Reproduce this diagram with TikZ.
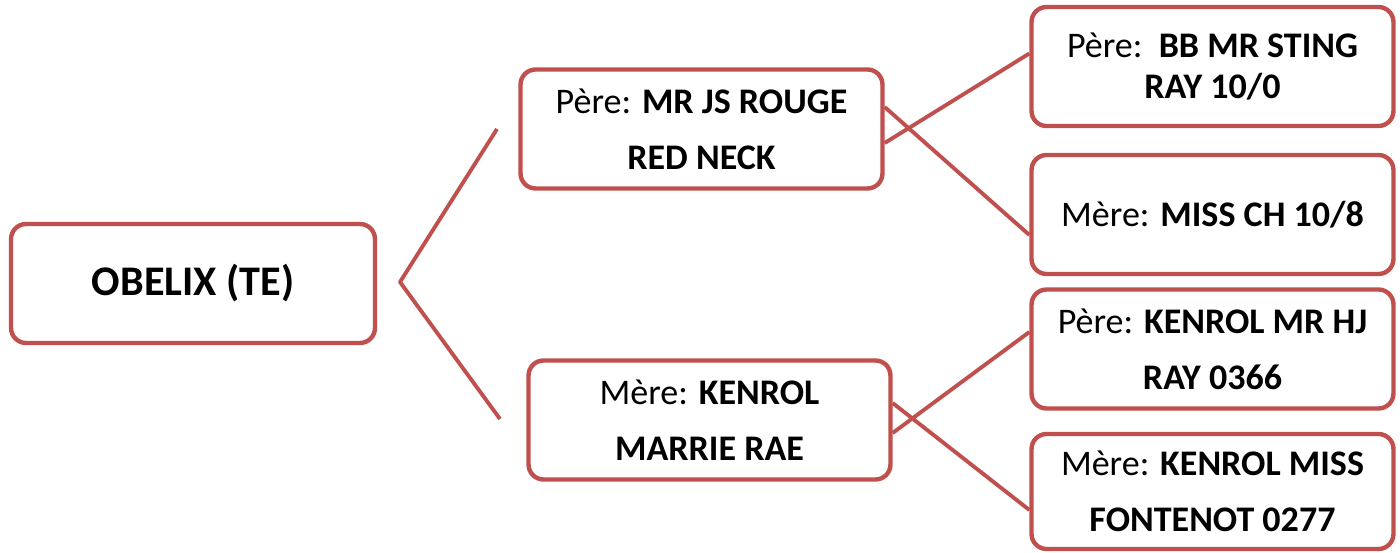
\documentclass[tikz,border=0pt]{standalone}
\usepackage{fontspec}
\setmainfont{Carlito}
\definecolor{boxred}{RGB}{192,80,77}

\begin{document}
\begin{tikzpicture}[x=0.02cm,y=-0.02cm,line join=round,
    main box/.style={rectangle,rounded corners=0.3cm,draw=boxred,line width=2.5pt,
      minimum width=7.24cm,minimum height=2.38cm,align=center,
      font=\fontsize{20.5}{32}\selectfont},
    link/.style={draw=boxred,line width=2.2pt}]
    \useasboundingbox (0,0) rectangle (1400,553);
    \node[main box,minimum width=7.28cm,font=\fontsize{24}{28}\selectfont\bfseries] (obelix) at (193,283.5) {OBELIX (TE)};
    \node[main box] (pere) at (701.5,129) {P\`ere: \textbf{MR JS ROUGE}\\\textbf{RED NECK}};
    \node[main box] (mere) at (709.5,420) {M\`ere: \textbf{KENROL}\\\textbf{MARRIE RAE}};
    \node[main box,font=\fontsize{20.5}{23}\selectfont] (gp1) at (1212.5,66.5) {P\`ere:\ \ \textbf{BB MR STING}\\\textbf{RAY 10/0}};
    \node[main box] (gp2) at (1212.5,214.5) {M\`ere: \textbf{MISS CH 10/8}};
    \node[main box] (gp3) at (1212.5,349) {P\`ere: \textbf{KENROL MR HJ}\\\textbf{RAY 0366}};
    \node[main box,minimum height=2.3cm] (gp4) at (1212.5,491.5) {M\`ere: \textbf{KENROL MISS}\\\textbf{FONTENOT 0277}};
    % fourche
    \coordinate (haut) at (497,129);
    \coordinate (pointe) at (400,282);
    \coordinate (bas) at (500,419);
    \path[link] (haut) -- (pointe) -- (bas);
    % croisements
    \path[link] ([yshift=0.44cm]pere.east) -- ([yshift=-0.41cm]gp2.west)
    ([yshift=-0.28cm]pere.east) -- ([yshift=0.26cm]gp1.west)
    ([yshift=0.34cm]mere.east) -- ([yshift=-0.37cm]gp4.west)
    ([yshift=-0.26cm]mere.east) -- ([yshift=0.34cm]gp3.west);
\end{tikzpicture}
\end{document}
